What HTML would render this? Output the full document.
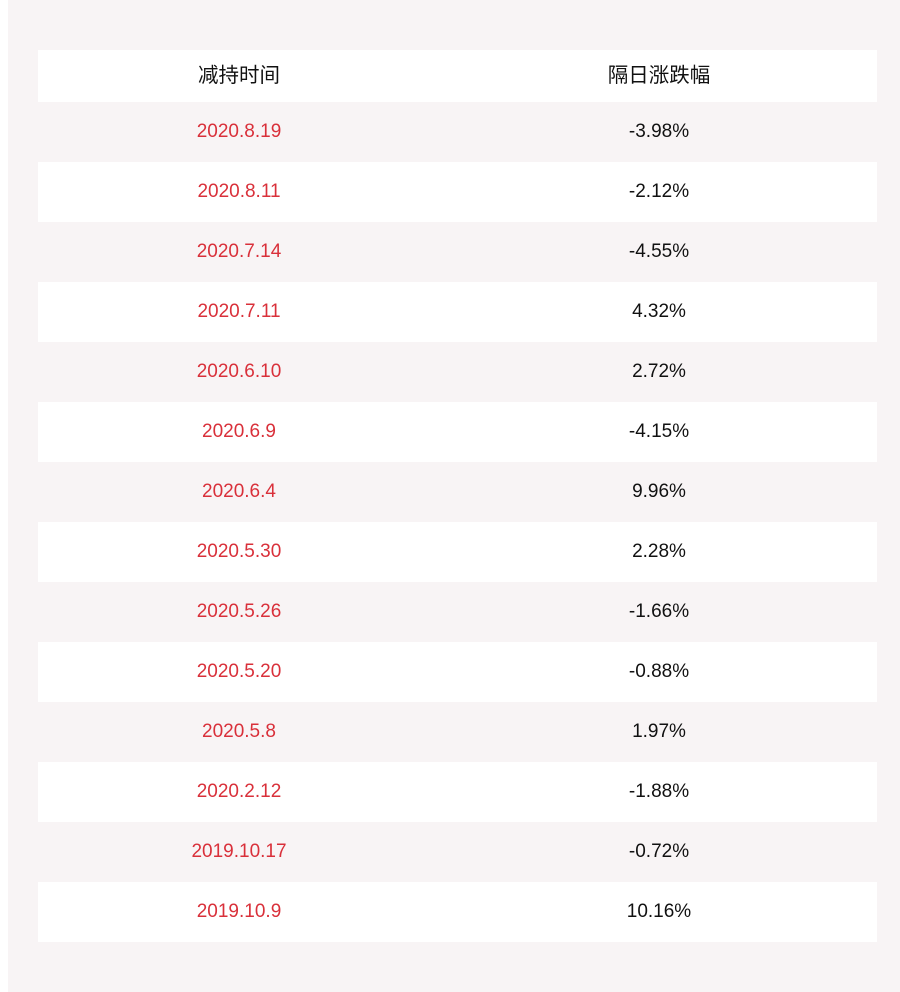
<!DOCTYPE html>
<html><head><meta charset="utf-8"><style>
body{margin:0;background:#fff;width:900px;height:992px;position:relative;overflow:hidden;font-family:"Liberation Sans","Noto Sans CJK SC",sans-serif;}
.panel{position:absolute;left:8px;top:0;width:892px;height:992px;background:#f8f4f5;}
.row{position:absolute;left:38px;width:839px;height:60px;}
.w{background:#fff;}
.c{position:absolute;top:0;width:300px;text-align:center;font-size:19px;line-height:60px;}
.l{left:51px;color:#d9303a;}
.r{left:471px;color:#111;}
.h .c{color:#111;font-size:20.5px;}
</style></head><body>
<div class="panel"></div>
<div class="row w h" style="top:50px;height:52px"><div class="c l" style="line-height:52px">减持时间</div><div class="c r" style="line-height:52px">隔日涨跌幅</div></div>
<div class="row" style="top:102px"><div class="c l">2020.8.19</div><div class="c r">-3.98%</div></div>
<div class="row w" style="top:162px"><div class="c l">2020.8.11</div><div class="c r">-2.12%</div></div>
<div class="row" style="top:222px"><div class="c l">2020.7.14</div><div class="c r">-4.55%</div></div>
<div class="row w" style="top:282px"><div class="c l">2020.7.11</div><div class="c r">4.32%</div></div>
<div class="row" style="top:342px"><div class="c l">2020.6.10</div><div class="c r">2.72%</div></div>
<div class="row w" style="top:402px"><div class="c l">2020.6.9</div><div class="c r">-4.15%</div></div>
<div class="row" style="top:462px"><div class="c l">2020.6.4</div><div class="c r">9.96%</div></div>
<div class="row w" style="top:522px"><div class="c l">2020.5.30</div><div class="c r">2.28%</div></div>
<div class="row" style="top:582px"><div class="c l">2020.5.26</div><div class="c r">-1.66%</div></div>
<div class="row w" style="top:642px"><div class="c l">2020.5.20</div><div class="c r">-0.88%</div></div>
<div class="row" style="top:702px"><div class="c l">2020.5.8</div><div class="c r">1.97%</div></div>
<div class="row w" style="top:762px"><div class="c l">2020.2.12</div><div class="c r">-1.88%</div></div>
<div class="row" style="top:822px"><div class="c l">2019.10.17</div><div class="c r">-0.72%</div></div>
<div class="row w" style="top:882px"><div class="c l">2019.10.9</div><div class="c r">10.16%</div></div>
</body></html>
